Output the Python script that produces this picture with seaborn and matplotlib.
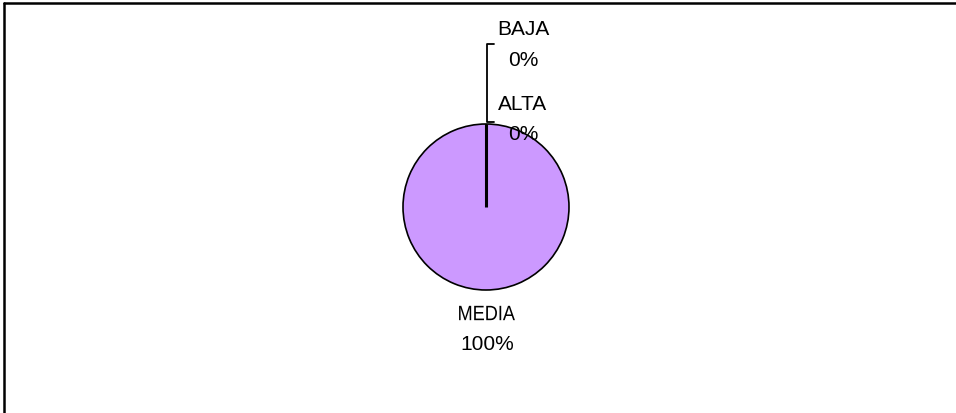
import matplotlib
matplotlib.use("Agg")
import matplotlib.pyplot as plt
from matplotlib.lines import Line2D
from matplotlib.textpath import TextPath
from matplotlib.patches import PathPatch
from matplotlib.font_manager import FontProperties
from matplotlib.transforms import Affine2D
import seaborn as sns

sns.set_theme(style="white")
plt.rcParams['font.family'] = ['Liberation Sans', 'DejaVu Sans']

# Pie data: share of each level
categories = ["ALTA", "MEDIA", "BAJA"]
values = [0, 100, 0]
pct_labels = ["0%", "100%", "0%"]
slice_color = "#CC99FF"

W, H = 956, 414
fig = plt.figure(figsize=(W / 100, H / 100), dpi=100)
fig.patch.set_facecolor("white")
ax = fig.add_axes([0, 0, 1, 1])

cx, cy, r = 486, H - 208, 83
ax.pie(
    values,
    colors=[slice_color] * len(values),
    startangle=90,
    counterclock=False,
    center=(cx, cy),
    radius=r,
    wedgeprops=dict(edgecolor="black", linewidth=1.2),
    frame=True,
)
ax.set_xlim(0, W)
ax.set_ylim(0, H)
ax.set_aspect("equal")
ax.axis("off")

# Radius line where the zero-size slices sit
ax.plot([cx, cx], [cy, cy + r], color="black", lw=2.2, solid_capstyle="butt", zorder=5)

# Leader bracket for the small slices
top_y = H - 45
bot_y = H - 123
ax.plot([cx + 8, cx + 1, cx + 1, cx + 8], [top_y, top_y, bot_y, bot_y],
        color="black", lw=1.3, zorder=5)

fs = 15
px_per_pt = 100 / 72
fp = FontProperties(family="Liberation Sans", size=fs * px_per_pt)


def narrow_text(s, x, y, sx=0.87):
    """Draw text horizontally squeezed, centred at (x, y) in pixel data units."""
    tp = TextPath((0, 0), s, prop=fp)
    bb = tp.get_extents()
    tr = (Affine2D().translate(-(bb.x0 + bb.width / 2), -(bb.y0 + bb.height / 2))
          .scale(sx, 1).translate(x, y))
    ax.add_patch(PathPatch(tr.transform_path(tp), facecolor="black", edgecolor="none",
                           zorder=6))


label_pos = {
    "ALTA": (523, 105, 135),
    "MEDIA": (487, 314, 345),
    "BAJA": (523, 29, 60),
}
for cat, pct in zip(categories, pct_labels):
    x, y1, y2 = label_pos[cat]
    if cat == "MEDIA":
        narrow_text(cat, x, H - y1)
    else:
        ax.text(x, H - y1, cat, ha="center", va="center", fontsize=fs, color="black",
                zorder=6)
    ax.text(x, H - y2, pct, ha="center", va="center", fontsize=fs, color="black", zorder=6)

# Outer frame: left and top edges
fig.add_artist(Line2D([4 / W, 4 / W], [0, 1 - 4 / H], color="black", lw=1.8,
                      transform=fig.transFigure))
fig.add_artist(Line2D([4 / W, 1], [1 - 4 / H, 1 - 4 / H], color="black", lw=1.8,
                      transform=fig.transFigure))

fig.savefig("out.png", dpi=100, facecolor="white")
